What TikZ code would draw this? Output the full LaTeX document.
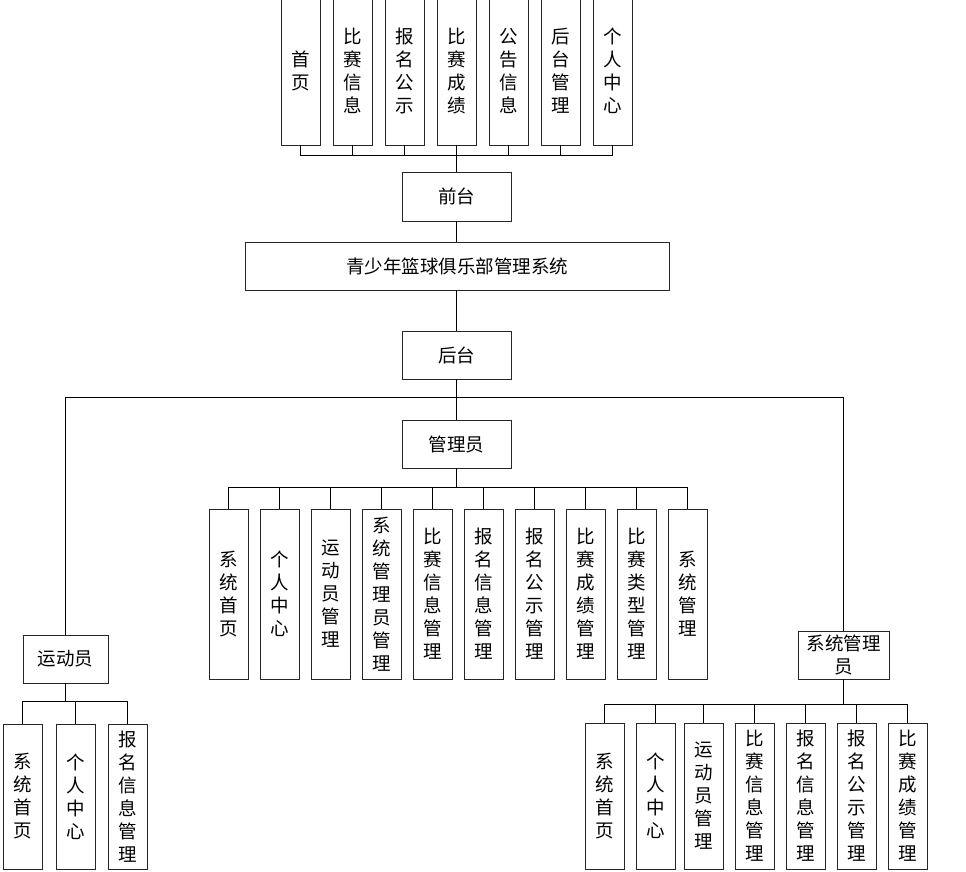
\documentclass[tikz,border=0pt]{standalone}
\usepackage{fontspec}
\setmainfont{Noto Sans CJK SC}
\usepackage{tikz}
\usetikzlibrary{positioning}

\begin{document}
\begin{tikzpicture}[x=1pt,y=-1pt,
		box/.style={draw=black!85,line width=0.9pt,inner sep=0pt,align=center,font=\fontsize{18.5}{23}\selectfont},
		col/.style={box,minimum width=39pt}]
		\useasboundingbox (0,0) rectangle (966,872);
		
		% front end
		\node[col,minimum height=148pt] (f1) at (300.5,71) {首\\页};
		\node[col,minimum height=148pt] (f2) at (352.5,71) {比\\赛\\信\\息};
		\node[col,minimum height=148pt] (f3) at (404.5,71) {报\\名\\公\\示};
		\node[col,minimum height=148pt] (f4) at (456.5,71) {比\\赛\\成\\绩};
		\node[col,minimum height=148pt] (f5) at (508.5,71) {公\\告\\信\\息};
		\node[col,minimum height=148pt] (f6) at (560.5,71) {后\\台\\管\\理};
		\node[col,minimum height=148pt] (f7) at (612.5,71) {个\\人\\中\\心};
		\node[box,minimum width=109pt,minimum height=49pt] (qt) at (456.5,196.5) {前台};
		\coordinate (bf) at (456.5,155);
		\draw (f1.south) |- (bf); \draw (f2.south) |- (bf); \draw (f3.south) |- (bf);
		\draw (f7.south) |- (bf); \draw (f6.south) |- (bf); \draw (f5.south) |- (bf);
		\draw (f4.south) -- (bf) -- (qt.north);
		
		\node[box,minimum width=424pt,minimum height=48pt] (sys) at (457,266) {青少年篮球俱乐部管理系统};
		\draw (qt.south) -- (qt.south |- sys.north);
		
		% back end
		\node[box,minimum width=109pt,minimum height=48pt] (ht) at (456.5,355) {后台};
		\draw (ht.north |- sys.south) -- (ht.north);
		\coordinate (bh) at (456.5,397);
		\node[box,minimum width=109pt,minimum height=48pt] (gly) at (456.5,444) {管理员};
		\node[box,minimum width=85pt,minimum height=48pt] (ydy) at (65.5,659) {运动员};
		\node[box,minimum width=91pt,minimum height=48pt] (xt) at (843.5,655) {系统管理\\员};
		\draw (ht.south) -- (bh) -- (gly.north);
		\draw (ydy.north) |- (bh);
		\draw (xt.north) |- (bh);
		
		% administrator
		\node[col,minimum height=170pt] (a1) at (228.5,594) {系\\统\\首\\页};
		\node[col,minimum height=170pt] (a2) at (279.5,594) {个\\人\\中\\心};
		\node[col,minimum height=170pt] (a3) at (330.5,594) {运\\动\\员\\管\\理};
		\node[col,minimum height=170pt] (a4) at (381.5,594) {系\\统\\管\\理\\员\\管\\理};
		\node[col,minimum height=170pt] (a5) at (432.5,594) {比\\赛\\信\\息\\管\\理};
		\node[col,minimum height=170pt] (a6) at (483.5,594) {报\\名\\信\\息\\管\\理};
		\node[col,minimum height=170pt] (a7) at (534.5,594) {报\\名\\公\\示\\管\\理};
		\node[col,minimum height=170pt] (a8) at (585.5,594) {比\\赛\\成\\绩\\管\\理};
		\node[col,minimum height=170pt] (a9) at (636.5,594) {比\\赛\\类\\型\\管\\理};
		\node[col,minimum height=170pt] (a10) at (687.5,594) {系\\统\\管\\理};
		\coordinate (bg) at (456.5,487);
		\draw (gly.south) -- (bg);
		\draw (a1.north) |- (bg); \draw (a2.north) |- (bg); \draw (a3.north) |- (bg);
		\draw (a4.north) |- (bg); \draw (a5.north) |- (bg);
		\draw (a6.north) |- (bg); \draw (a7.north) |- (bg); \draw (a8.north) |- (bg);
		\draw (a9.north) |- (bg); \draw (a10.north) |- (bg);
		
		% athlete
		\node[col,minimum height=145pt] (y1) at (22.5,796.5) {系\\统\\首\\页};
		\node[col,minimum height=145pt] (y2) at (75.5,796.5) {个\\人\\中\\心};
		\node[col,minimum height=145pt] (y3) at (127.5,796.5) {报\\名\\信\\息\\管\\理};
		\coordinate (by) at (65.5,701);
		\draw (ydy.south) -- (by);
		\draw (y1.north) |- (by); \draw (y2.north) |- (by); \draw (y3.north) |- (by);
		
		% system administrator
		\node[col,minimum height=146pt] (s1) at (604.5,796) {系\\统\\首\\页};
		\node[col,minimum height=146pt] (s2) at (655.5,796) {个\\人\\中\\心};
		\node[col,minimum height=146pt] (s3) at (703.5,796) {运\\动\\员\\管\\理};
		\node[col,minimum height=146pt] (s4) at (754.5,796) {比\\赛\\信\\息\\管\\理};
		\node[col,minimum height=146pt] (s5) at (805.5,796) {报\\名\\信\\息\\管\\理};
		\node[col,minimum height=146pt] (s6) at (856.5,796) {报\\名\\公\\示\\管\\理};
		\node[col,minimum height=146pt] (s7) at (907.5,796) {比\\赛\\成\\绩\\管\\理};
		\coordinate (bs) at (843.5,704);
		\draw (xt.south) -- (bs);
		\draw (s1.north) |- (bs); \draw (s2.north) |- (bs); \draw (s3.north) |- (bs);
		\draw (s4.north) |- (bs); \draw (s5.north) |- (bs); \draw (s6.north) |- (bs);
		\draw (s7.north) |- (bs);
\end{tikzpicture}
\end{document}
